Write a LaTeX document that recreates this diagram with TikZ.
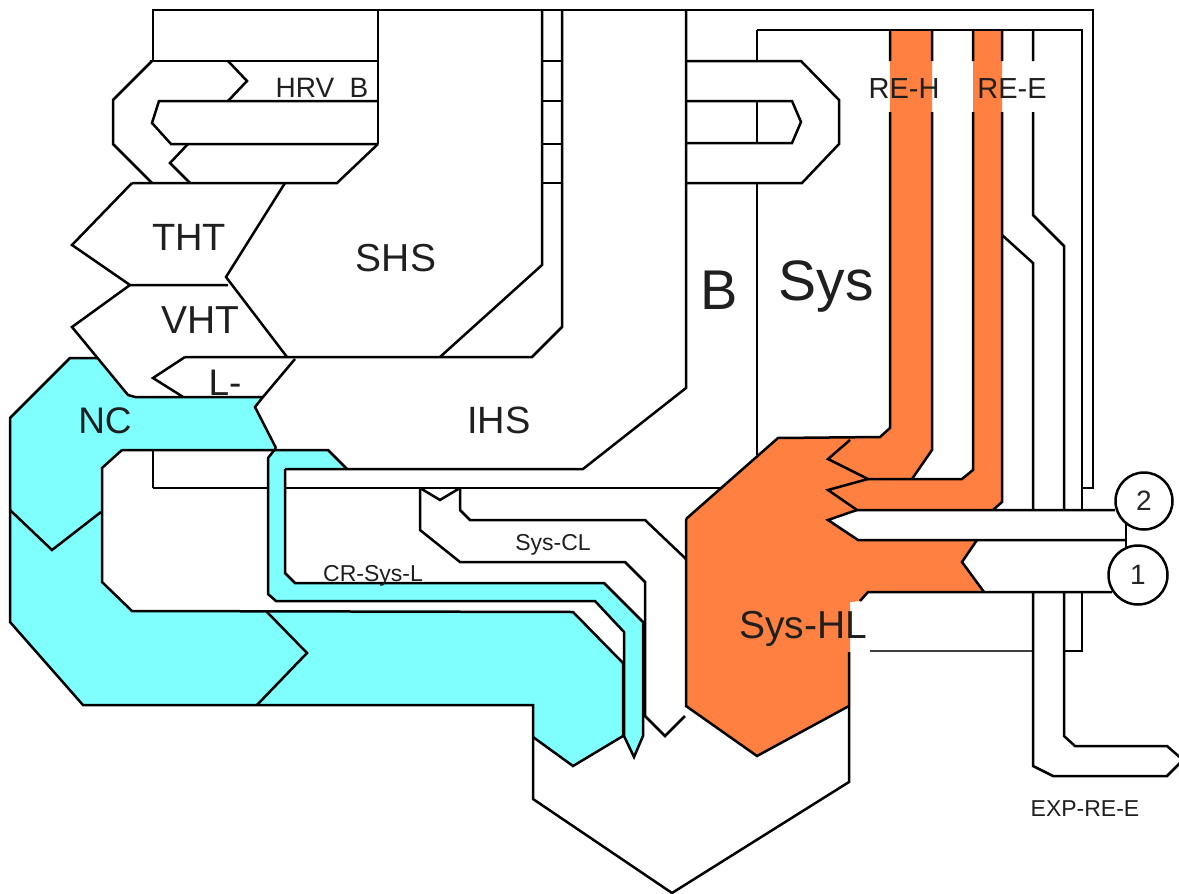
\documentclass[tikz,border=0pt]{standalone}
\usepackage{fontspec}
\setmainfont{Liberation Sans}
\definecolor{orng}{HTML}{FF8040}
\definecolor{cyn}{HTML}{80FFFF}
\begin{document}
\begin{tikzpicture}[x=1pt,y=-1pt,
  thk/.style={line width=2.5pt,line join=miter,line cap=butt},
  thn/.style={line width=1.4pt,line cap=butt},
  lab/.style={anchor=base,inner sep=0pt,text=black!88},
  num/.style={draw,line width=2.5pt,circle,fill=white,inner sep=0pt,font=\fontsize{28}{30}\selectfont,text=black!85},
]
\useasboundingbox (0,0) rectangle (1179,894);
\clip (0,0) rectangle (1179,894);
\fill[white] (0,0) rectangle (1179,894);

% ---------- fills ----------
\fill[cyn] (70,358) -- (98,358) -- (128,395) -- (135,397) -- (263,397) -- (255,407) -- (276,448) -- (276,450)
  -- (122,450) -- (102,468) -- (102,582) -- (132,611) -- (573,612) -- (623,663) -- (623,736) -- (573,766)
  -- (533,737) -- (533,705) -- (83,705) -- (10,622) -- (10,418) -- cycle;
\fill[cyn] (276,448) -- (276,450) -- (328,450) -- (347,469) -- (285,469) -- (285,573) -- (295,583) -- (604,583)
  -- (643,622) -- (643,736) -- (634,757) -- (624,736) -- (624,632) -- (595,601) -- (276,601) -- (268,594)
  -- (268,458) -- cycle;
\fill[orng] (686,519) -- (778,438) -- (880,437) -- (890,428) -- (890,30) -- (932,30) -- (932,450) -- (912,479)
  -- (962,479) -- (973,470) -- (973,30) -- (1002,30) -- (1002,502) -- (993,510) -- (857,510) -- (828,520)
  -- (858,540) -- (977,540) -- (962,562) -- (984,592) -- (868,592) -- (860,601) -- (850,602) -- (850,706)
  -- (757,756) -- (686,706) -- cycle;

% ---------- top frame and HRV ----------
\draw[thk] (153,61) -- (153,10) -- (1093,10) -- (1093,488) -- (1082,488);
\draw[thn] (378,10) -- (378,144);
\draw[thk] (150,61) -- (378,61);
\draw[thk] (152,61) -- (113,100) -- (113,144) -- (152,183);
\draw[thk] (228,61) -- (247,81) -- (228,101);
\draw[thk] (378,101) -- (159,101) -- (152,123) -- (171,144) -- (378,144);
\draw[thk] (188,144) -- (170,163) -- (190,183);
\draw[thk] (378,144) -- (337,183) -- (132,183);
% THT / VHT / L-
\draw[thk] (132,183) -- (72,245) -- (130,285) -- (228,285);
\draw[thk] (285,183) -- (226,277) -- (287,357);
\draw[thk] (130,285) -- (72,327) -- (128,395) -- (135,397) -- (263,397);
\draw[thk] (185,357) -- (153,378) -- (180,395) -- (183,397);
\draw[thk] (295,359) -- (263,397) -- (255,407) -- (276,448);
% SHS / IHS / strip
\draw[thk] (185,357) -- (532,357) -- (562,327) -- (562,10);
\draw[thk] (440,357) -- (542,265) -- (542,10);
\foreach \yy in {61,101,144,183} \draw[thk] (542,\yy) -- (562,\yy);
\draw[thk] (686,10) -- (686,388) -- (583,469) -- (285,469);
\draw[thk] (153,488) -- (268,488) (285,488) -- (720,488);
\draw[thk] (153,450) -- (153,488);
\draw[thk] (122,450) -- (328,450) -- (347,469);
% right HRV loop
\draw[thk] (686,61) -- (801,61) -- (839,100) -- (839,144) -- (802,183) -- (686,183);
\draw[thk] (686,101) -- (792,101) -- (801,122) -- (792,143) -- (686,143);
\draw[thn] (757,30) -- (757,61) (757,101) -- (757,143) (757,183) -- (757,455);
\draw[thn] (757,30) -- (1082,30) -- (1082,510);
\draw[thn] (1082,592) -- (1082,651) -- (1064,651);

% ---------- NC ----------
\draw[thk] (98,358) -- (70,358) -- (10,418) -- (10,622) -- (83,705) -- (533,705) -- (533,799) -- (672,893) -- (849,782) -- (849,652);
\draw[thk] (10,510) -- (52,550) -- (101,512);
\draw[thk] (122,450) -- (102,468) -- (102,582) -- (132,611) -- (573,612) -- (623,663) -- (623,736) -- (573,766) -- (533,737);
\draw[thk] (267,612) -- (307,653) -- (257,705);
% CR-Sys-L outline
\draw[thk] (285,469) -- (285,573) -- (295,583) -- (604,583) -- (643,622) -- (643,736) -- (634,757) -- (624,736)
  -- (624,632) -- (595,601) -- (276,601) -- (268,594) -- (268,458) -- (276,448);
% Sys-CL
\draw[thk] (420,488) -- (440,500) -- (460,488);
\draw[thk] (420,488) -- (420,530) -- (460,562) -- (625,562) -- (645,582) -- (645,716) -- (665,736) -- (685,716);
\draw[thk] (460,488) -- (460,510) -- (470,520) -- (645,520) -- (686,559);

% ---------- orange outlines ----------
\draw[thk] (686,519) -- (778,438) -- (880,437) -- (890,428) -- (890,112) (890,61) -- (890,30);
\draw[thk] (686,519) -- (686,706) -- (757,756) -- (849,706);
\draw[thk] (932,30) -- (932,61) (932,112) -- (932,450) -- (912,479);
\draw[thk] (850,440) -- (828,459) -- (868,479) -- (962,479) -- (973,470) -- (973,112) (973,61) -- (973,30);
\draw[thk] (868,479) -- (828,490) -- (857,510) -- (1115,510);
\draw[thk] (1002,30) -- (1002,61) (1002,112) -- (1002,502) -- (993,510);
\draw[thk] (857,510) -- (828,520) -- (858,540) -- (1126,540);
\draw[thk] (977,540) -- (962,562) -- (984,592);
\draw[thk] (860,601) -- (868,592) -- (1112,592);
\draw[line width=1.4pt,black!75] (870,651) -- (1033,651);
% EXP-RE-E
\draw[thk] (1033,30) -- (1033,61) (1033,112) -- (1033,215) -- (1064,246) -- (1064,510);
\draw[thk] (1002,235) -- (1033,263) -- (1033,510);
\draw[thk] (1033,592) -- (1033,766) -- (1053,776) -- (1167,776) -- (1183,760) -- (1167,746) -- (1075,746) -- (1064,736) -- (1064,592);

% ---------- circles ----------
\draw[thk] (1126,522) -- (1126,548);
\node[num,minimum size=57pt] (c2) at (1144,501) {2};
\node[num,minimum size=59pt] (c1) at (1138,575) {1};

% ---------- labels ----------
\node[lab,font=\fontsize{28}{30}\selectfont] (hrv) at (322,97) {HRV~~B};
\node[lab,font=\fontsize{38}{40}\selectfont] (tht) at (189,250) {THT};
\node[lab,font=\fontsize{39}{41}\selectfont] (shs) at (396,271) {SHS};
\node[lab,font=\fontsize{39}{41}\selectfont] (vht) at (200,333) {VHT};
\node[lab,font=\fontsize{37}{39}\selectfont] (lm) at (225,395) {L-};
\node[lab,font=\fontsize{37}{39}\selectfont] (nc) at (105,433) {NC};
\node[lab,font=\fontsize{38}{40}\selectfont] (ihs) at (499,433) {IHS};
\node[lab,font=\fontsize{56}{58}\selectfont] (bb) at (719,309) {B};
\node[lab,font=\fontsize{57}{59}\selectfont] (sys) at (826,300) {Sys};
\node[lab,font=\fontsize{29}{31}\selectfont] (reh) at (904,98) {RE-H};
\node[lab,font=\fontsize{29}{31}\selectfont] (ree) at (1012,98) {RE-E};
\node[lab,font=\fontsize{23}{25}\selectfont] (syscl) at (553,550) {Sys-CL};
\node[lab,font=\fontsize{23}{25}\selectfont] (crsys) at (373,581) {CR-Sys-L};
\node[lab,font=\fontsize{39}{41}\selectfont] (syshl) at (803,638) {Sys-HL};
\node[lab,font=\fontsize{23}{25}\selectfont] (exp) at (1085,816) {EXP-RE-E};
\end{tikzpicture}
\end{document}
